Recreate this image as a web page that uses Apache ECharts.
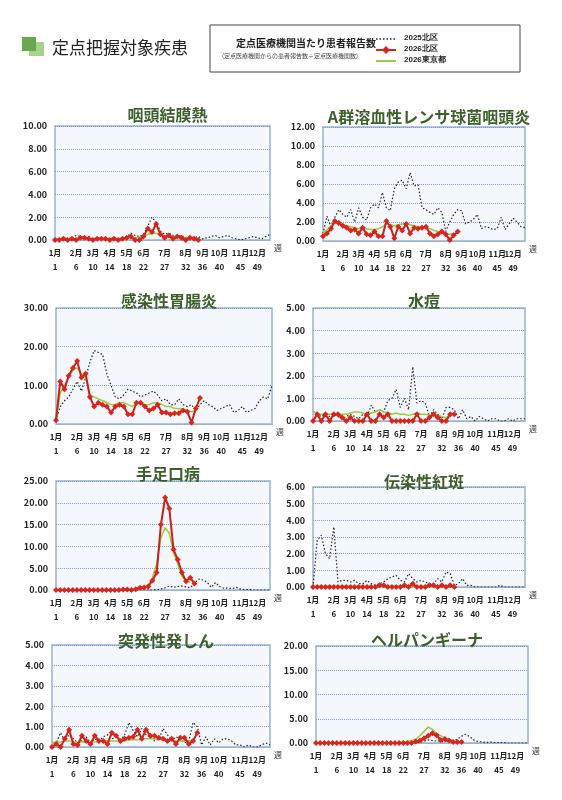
<!DOCTYPE html>
<html><head><meta charset="utf-8">
<script src="https://cdn.jsdelivr.net/npm/echarts@6/dist/echarts.min.js"></script>
<style>body{margin:0;background:#fff}#c{width:562px;height:800px}</style></head>
<body><div id="c"></div>
<script>
const weeks = Array.from({length:52},(_,i)=>String(i+1));
const monthAt = {1:'1月',6:'2月',10:'3月',14:'4月',18:'5月',22:'6月',27:'7月',32:'8月',36:'9月',40:'10月',45:'11月',49:'12月'};
const titles = ['咽頭結膜熱','A群溶血性レンサ球菌咽頭炎','感染性胃腸炎','水痘','手足口病','伝染性紅斑','突発性発しん','ヘルパンギーナ'];
const yMax = [10,12,30,5,25,6,5,20];
const yStep = [2,2,10,1,5,1,1,5];

const s2025_1=[0,0.1,0.2,0.1,0.2,0.4,0.3,0.2,0.3,0.1,0.2,0.1,0.2,0.1,0.2,0.1,0.2,0.3,0.6,0.4,0.3,0.5,1.2,2.0,1.5,0.8,0.5,0.6,0.4,0.3,0.4,0.2,0.3,0.2,0.3,0.1,0.2,0.3,0.4,0.2,0.3,0.4,0.2,0.1,0,0.1,0.2,0.3,0.2,0.1,0.3,0.5];
const s2026_1=[0,0,0.1,0,0.1,0,0.2,0.2,0.1,0,0.1,0.1,0.1,0,0.1,0,0.1,0.2,0.3,0,0,0.3,1.0,0.7,1.4,0.5,0.2,0.4,0.1,0.3,0.2,0,0.2,0.1,0];
const tky_1=[0.1,0.1,0.1,0.1,0.1,0.1,0.1,0.1,0.1,0.1,0.1,0.1,0.1,0.1,0.1,0.1,0.15,0.2,0.2,0.2,0.25,0.3,0.5,0.6,0.6,0.5,0.4,0.35,0.3,0.3,0.25,0.2,0.2,0.2];

const s2025_2=[0.8,2.6,1.5,2.5,3.3,2.8,2.5,3.3,2.0,3.5,2.5,2.2,3.5,3.9,3.5,5.1,3.5,3.2,5.5,6.2,6.4,5.5,7.2,5.8,5.9,3.5,3.3,3.0,2.8,3.5,3.0,1.0,2.0,2.8,3.3,3.2,1.8,2.0,2.3,2.8,1.3,1.5,1.4,1.2,1.3,2.5,1.2,1.8,2.4,2.0,1.5,1.4];
const s2026_2=[0.5,0.8,1.3,2.1,1.9,1.6,1.4,1.1,1.2,0.8,1.4,0.7,0.6,1.0,0.5,0.5,2.1,1.5,0.3,1.5,1.1,1.8,0.8,1.4,1.3,1.4,1.5,0.8,0.5,0.7,1.0,0.7,0.1,0.6,1.0];
const tky_2=[0.8,1.2,1.6,1.9,1.8,1.7,1.6,1.5,1.4,1.3,1.4,1.3,1.2,1.2,1.3,1.5,1.8,1.7,1.6,1.7,1.8,1.8,1.7,1.6,1.5,1.5,1.4,1.3,1.1,1.0,0.9,0.8,0.7,0.8];

const s2025_3=[1,4.5,6,7,9,11,8.5,12,16,19,18.5,18,13,10,7,6.5,7.5,9,8.5,8,7,7.5,8,8.5,7.5,6,6.5,5,5,6.5,5,4.5,5,3.5,5,6,5,4.5,3.5,4,4.5,5,3,3.5,4.5,3,3.5,4,6,7,6.5,10];
const s2026_3=[1,11,9,12.5,14.5,16.3,12,13,7,4.5,5.5,5,4.5,3,4.5,5,4.5,2.5,2.5,5.5,5.5,4.5,3.5,4,5,3,3,2.5,2.8,2.8,3.5,3.2,0.4,4,6.7];
const tky_3=[1,8,10,12,14,14.5,13,12,7.5,7,6.5,6,5.5,5,5,5.5,5.5,5,4.5,5.5,5.5,5,5,5.5,5.5,5,4.5,4.5,4,4,3.8,3.5,3.2,3.5];

const s2025_4=[0,0.3,0.2,0.3,0.2,0.3,0.2,0.1,0.2,0.3,0.2,0.1,0.3,0.2,0.7,0.4,0.5,0.4,0.9,1.0,1.4,0.6,1.0,0.5,2.4,0.8,0.9,0.8,0.2,0.5,0.3,0.1,0.6,0.6,0.5,0.1,0.5,0.1,0.2,0,0.2,0.1,0,0.1,0.1,0,0,0.1,0,0.1,0.1,0.1];
const s2026_4=[0,0.3,0,0.3,0,0.3,0.3,0.15,0,0.15,0,0,0,0.3,0,0,0.3,0.15,0.3,0,0,0,0,0,0,0.3,0,0,0.15,0.3,0.15,0,0,0.3,0.3];
const tky_4=[0.45,0.3,0.3,0.3,0.3,0.3,0.3,0.3,0.3,0.35,0.4,0.4,0.35,0.3,0.35,0.4,0.5,0.4,0.35,0.3,0.35,0.3,0.3,0.25,0.3,0.35,0.3,0.3,0.25,0.3,0.25,0.2,0.15,0.3];

const s2025_5=[0,0,0,0,0,0,0,0,0,0,0,0,0,0,0,0,0,0,0,0,0,0,0,0,0.1,0.2,0.5,0.9,0.6,0.8,0.9,0.7,0.5,1.5,2.5,2.3,1.8,0.6,1.7,0.8,0.4,0.5,0.3,0.6,0.2,0.1,0.1,0,0,0,0,0];
const s2026_5=[0,0,0,0,0,0,0,0,0,0,0,0,0,0,0,0,0.1,0.1,0,0.2,0.5,0.6,0.8,2.2,4,15,21.2,18.7,9.3,7,4,2,2.8,1.5];
const tky_5=[0,0,0,0,0,0,0,0,0,0,0,0,0,0,0,0,0.1,0.1,0.1,0.2,0.4,0.7,1.2,2.8,6,12,14.3,13,8.5,6,3.2,2,1.8];

const s2025_6=[0,2.8,3.1,2,1.7,3.6,0.3,0.4,0.4,0.3,0.4,0.2,0.2,0.4,0.2,0.1,0.2,0.3,0.5,0.6,0.7,0.4,0.3,0.8,0.5,0.3,0.4,0.3,0.2,0.2,0.5,0.3,0.9,0.8,0.1,0.2,0.5,0.1,0.1,0,0,0,0,0,0,0.1,0,0,0,0,0,0];
const s2026_6=[0,0,0,0,0,0,0,0,0,0,0,0,0,0,0,0,0.1,0.1,0,0,0,0,0.1,0,0.2,0,0,0,0.1,0.1,0,0.1,0,0.1,0];
const tky_6=[0.05,0.05,0.05,0.05,0.05,0.05,0.05,0.05,0.05,0.05,0.05,0.05,0.05,0.05,0.05,0.05,0.05,0.05,0.05,0.05,0.05,0.05,0.05,0.05,0.05,0.05,0.05,0.05,0.05,0.05,0.05,0.05,0.05,0.05];

const s2025_7=[0,0.2,0.7,0.3,0.6,0.4,0.2,0.3,0.5,0.2,0.4,0.3,0.5,0.6,0.4,0.5,0.3,0.6,1.2,0.8,0.5,0.9,0.6,0.5,0.3,0.4,0.9,0.6,0.3,0.5,0.4,0.2,0.3,1.2,1.0,0.1,0.5,0.1,0.4,0.2,0.4,0.4,0.3,0.1,0.1,0.0,0.1,0,0,0.1,0.2,0.1];
const s2026_7=[0,0.15,0,0.4,0.85,0.15,0.1,0.55,0.3,0.15,0.55,0.3,0.3,0.15,0.7,0.55,0.3,0.4,0.45,0.5,0.85,0.4,0.85,0.55,0.55,0.45,0.4,0.3,0.4,0.15,0.45,0.45,0.15,0.3,0.7];
const tky_7=[0.2,0.25,0.25,0.3,0.3,0.25,0.25,0.25,0.25,0.25,0.25,0.25,0.3,0.3,0.3,0.3,0.3,0.3,0.35,0.35,0.35,0.4,0.4,0.4,0.4,0.4,0.35,0.35,0.3,0.3,0.3,0.3,0.3,0.35];

const s2025_8=[0,0,0,0,0,0,0,0,0,0,0,0,0,0,0,0,0,0,0,0,0,0,0,0,0.1,0.2,0.4,0.6,0.5,0.4,0.3,0.3,0.4,0.5,0.8,1.4,1.8,1.3,0.6,0.3,0.2,0.1,0.2,0.1,0.1,0.1,0,0,0,0,0,0];
const s2026_8=[0,0,0,0,0,0,0,0,0,0,0,0,0,0,0,0,0,0,0,0,0,0,0,0,0.3,0.5,1.0,1.5,2.0,1.6,0.6,0.8,0.5,0.2,0.2,0.2];
const tky_8=[0,0,0,0,0,0,0,0,0,0,0,0,0,0,0,0,0,0,0,0,0.1,0.2,0.3,0.5,0.8,1.5,2.4,3.3,2.8,2.0,1.5,1.0,0.7,0.5];

const D25=[s2025_1,s2025_2,s2025_3,s2025_4,s2025_5,s2025_6,s2025_7,s2025_8];
const D26=[s2026_1,s2026_2,s2026_3,s2026_4,s2026_5,s2026_6,s2026_7,s2026_8];
const DT=[tky_1,tky_2,tky_3,tky_4,tky_5,tky_6,tky_7,tky_8];

const G=[[55,126,215,114],[323,127,202,114],[56,308,216,116],[313,308,212,113],[56,481,214,109],[313,487,212,100],[52,645,218,102],[316,646,212,97]];
const TY=[102,104,288,288,461,469,628,627];

const grid=[],xAxis=[],yAxis=[],series=[],title=[];
G.forEach((g,i)=>{
  grid.push({left:g[0],top:g[1],width:g[2],height:g[3],show:true,backgroundColor:'#f4f8fd',borderColor:'#9bb3cf',borderWidth:1.5});
  title.push({text:titles[i],left:g[0]+g[2]/2,top:TY[i],textAlign:'center',textStyle:{fontSize:16,fontWeight:'bold',color:'#3d5f2c',fontFamily:'Noto Sans CJK JP'}});
  xAxis.push({type:'category',gridIndex:i,data:weeks,boundaryGap:false,name:'週',nameGap:4,nameTextStyle:{fontSize:8,color:'#333',verticalAlign:'top',padding:[4,0,0,0]},
    axisLine:{lineStyle:{color:'#9bb3cf'}},axisTick:{show:false},
    axisLabel:{interval:0,fontSize:8,fontWeight:'bold',color:'#222',lineHeight:14,margin:6,
      formatter:(v)=>monthAt[+v]?monthAt[+v]+'\n'+v:''}});
  yAxis.push({type:'value',gridIndex:i,min:0,max:yMax[i],interval:yStep[i],
    axisLine:{show:false},axisTick:{show:false},
    axisLabel:{formatter:v=>v.toFixed(2),fontSize:9,fontWeight:'bold',color:'#222',margin:8},
    splitLine:{lineStyle:{color:'#7f9cc0',type:'dotted',width:1}}});
  series.push({type:'line',xAxisIndex:i,yAxisIndex:i,data:D25[i],symbol:'none',lineStyle:{color:'#222',width:1.2,type:[1.5,2]},z:2});
  series.push({type:'line',xAxisIndex:i,yAxisIndex:i,data:DT[i],symbol:'none',lineStyle:{color:'#9ccc3c',width:1.5},z:3});
  series.push({type:'line',xAxisIndex:i,yAxisIndex:i,data:D26[i],symbol:'diamond',symbolSize:6,itemStyle:{color:'#d9251c'},lineStyle:{color:'#c8201a',width:2},z:4});
});

const graphic=[
  {type:'rect',shape:{x:29,y:42,width:15,height:14},style:{fill:'#a9d18e'},z:1},
  {type:'rect',shape:{x:22,y:37,width:14,height:14},style:{fill:'#6aa84f'},z:2},
  {type:'text',style:{text:'定点把握対象疾患',x:52,y:48,fontSize:17,fill:'#222',verticalAlign:'middle',fontFamily:'Noto Sans CJK JP'}},
  {type:'rect',shape:{x:210,y:25,width:310,height:47},style:{fill:'#fff',stroke:'#444',lineWidth:1}},
  {type:'text',style:{text:'定点医療機関当たり患者報告数',x:236,y:38,fontSize:10,fontWeight:'bold',fill:'#222',fontFamily:'Noto Sans CJK JP'}},
  {type:'text',style:{text:'(定点医療機関からの患者報告数÷定点医療機関数)',x:222,y:53,fontSize:6,fill:'#444',fontFamily:'Noto Sans CJK JP'}},
  {type:'line',shape:{x1:376,y1:39,x2:396,y2:39},style:{stroke:'#222',lineWidth:1.5,lineDash:[1.5,2]}},
  {type:'line',shape:{x1:376,y1:50,x2:396,y2:50},style:{stroke:'#d9251c',lineWidth:2}},
  {type:'polygon',shape:{points:[[386,46],[390,50],[386,54],[382,50]]},style:{fill:'#d9251c'}},
  {type:'line',shape:{x1:376,y1:61,x2:396,y2:61},style:{stroke:'#9ccc3c',lineWidth:2}},
  {type:'text',style:{text:'2025北区',x:404,y:34,fontSize:8,fontWeight:'bold',fill:'#222'}},
  {type:'text',style:{text:'2026北区',x:404,y:45,fontSize:8,fontWeight:'bold',fill:'#222'}},
  {type:'text',style:{text:'2026東京都',x:404,y:56,fontSize:8,fontWeight:'bold',fill:'#222'}}
];

const chart=echarts.init(document.getElementById('c'));
chart.setOption({animation:false,textStyle:{fontFamily:'Noto Sans CJK JP'},title,grid,xAxis,yAxis,series,graphic});
</script></body></html>
